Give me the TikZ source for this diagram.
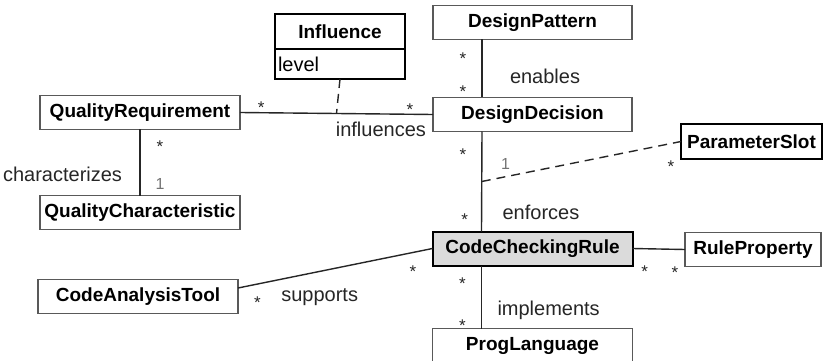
\documentclass[tikz,border=0pt]{standalone}
\usepackage{fontspec}
\setmainfont{Liberation Sans}

\begin{document}
\begin{tikzpicture}[x=1pt,y=-1pt,inner sep=0pt,outer sep=0pt,
classbox/.style={draw=black!65,line width=1.1pt,rectangle,inner sep=2pt,minimum width=200pt,minimum height=34pt,font=\fontsize{19}{22}\selectfont\bfseries},
keybox/.style={classbox,draw=black,line width=2pt},
assoc/.style={line width=1.4pt,black!85},
link/.style={assoc,dash pattern=on 9pt off 6pt},
mult/.style={font=\fontsize{17}{19}\selectfont,yshift=-4pt},
one/.style={font=\fontsize{16}{18}\selectfont,text=black!55},
role/.style={font=\fontsize{20}{24}\selectfont}]

\useasboundingbox (0,0) rectangle (823,361);

% classes
\draw (532.5,22.5) node[classbox,minimum width=199pt] (dp) {DesignPattern};
\draw (340,31.5) node[keybox,minimum width=130pt,minimum height=35pt] (inf) {Influence};
\draw (inf.south) node[keybox,anchor=north,minimum width=130pt,minimum height=30pt,text width=124pt,align=left,font=\fontsize{20}{24}\selectfont] (lvl) {level};
\draw (140,112.5) node[classbox] (qr) {QualityRequirement};
\draw (532.5,114.5) node[classbox,minimum width=199pt] (dd) {DesignDecision};
\draw (751.5,141.5) node[keybox,minimum width=141pt] (ps) {ParameterSlot};
\draw (140,212.5) node[classbox] (qc) {QualityCharacteristic};
\draw (532.5,248.5) node[keybox,fill=black!14] (ccr) {CodeCheckingRule};
\draw (753,249.5) node[classbox,minimum width=136pt] (rp) {RuleProperty};
\draw (138,296.5) node[classbox] (cat) {CodeAnalysisTool};
\draw (532.5,345.5) node[classbox] (pl) {ProgLanguage};

% associations
\draw[assoc] (qr.east) -- (dd.west) coordinate[pos=.5] (infl)
  node[mult,pos=.11,yshift=9pt] {*}
  node[mult,pos=.88,yshift=9pt] {*}
  node[role,pos=.73,below=8pt] {influences};
\draw[link] (lvl.south) -- (infl);

\draw[assoc] (qr) -- (qc)
  node[mult,pos=.2,xshift=20pt] {*}
  node[one,pos=.82,xshift=20pt] {1}
  node[role,pos=.68,left=18pt] {characterizes};

\draw[assoc] ([xshift=49pt]dp.south west) -- ([xshift=49pt]dd.north west)
  node[mult,pos=.26,xshift=-19pt] {*}
  node[mult,pos=.83,xshift=-19pt] {*}
  node[role,pos=.64,right=28pt] {enables};

\draw[assoc] ([xshift=49pt]dd.south west) -- ([xshift=49pt]ccr.north west) coordinate[pos=.5] (slot)
  node[mult,pos=.19,xshift=-19pt] {*}
  node[mult,pos=.84,xshift=-17pt] {*}
  node[role,pos=.81,right=21pt] {enforces};
\draw[link] (slot) -- (ps.west)
  node[one,pos=.12,yshift=13pt] {1}
  node[mult,pos=.95,yshift=-19pt] {*};

\draw[assoc] (ccr.west) -- ([yshift=8.5pt]cat.east)
  node[mult,pos=.1,yshift=-15pt] {*}
  node[mult,pos=.9,yshift=-15pt] {*}
  node[role,pos=.58,yshift=-26pt] {supports};

\draw[assoc] (ccr.east) -- (rp.west)
  node[mult,pos=.23,yshift=-19pt] {*}
  node[mult,pos=.81,yshift=-19pt] {*};

\draw[assoc] ([xshift=49pt]ccr.south west) -- ([xshift=49pt]pl.north west)
  node[mult,pos=.23,xshift=-19pt] {*}
  node[mult,pos=.89,xshift=-19pt] {*}
  node[role,pos=.71,right=16pt] {implements};
\end{tikzpicture}
\end{document}
